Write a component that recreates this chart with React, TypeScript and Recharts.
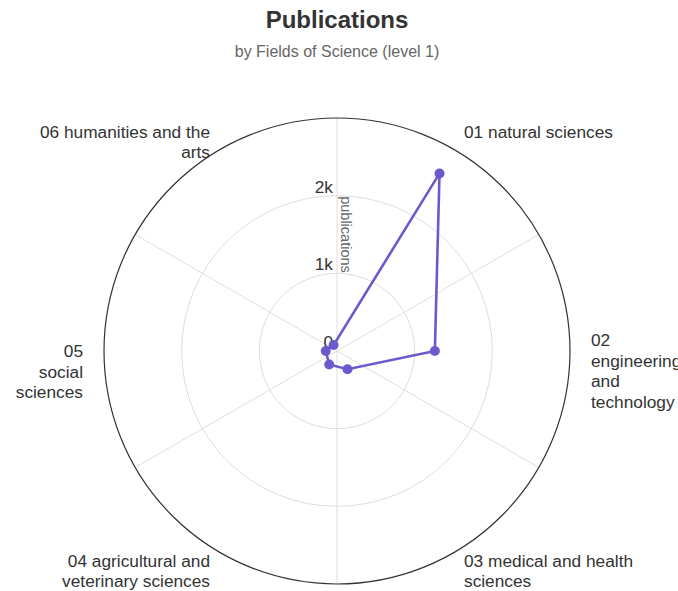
import React from 'react';
import { RadarChart, Radar, PolarGrid, PolarAngleAxis, PolarRadiusAxis } from 'recharts';

const categories = [
  '01 natural sciences',
  '02 engineering and technology',
  '03 medical and health sciences',
  '04 agricultural and veterinary sciences',
  '05 social sciences',
  '06 humanities and the arts',
];
const publications = [2640, 1260, 270, 200, 145, 88];
const categoryLabelLines = [
  ['01 natural sciences'],
  ['02', 'engineering', 'and', 'technology'],
  ['03 medical and health', 'sciences'],
  ['04 agricultural and', 'veterinary sciences'],
  ['05', 'social', 'sciences'],
  ['06 humanities and the', 'arts'],
];
const radiusTicks = [0, 1000, 2000];
const radiusDomain = [0, 3000];
const gridAngles = [30, 90, 150, 210, 270, 330];
const title = 'Publications';
const subtitle = 'by Fields of Science (level 1)';
const axisTitle = 'publications';

const data = categories.map((c, i) => ({ field: c, publications: publications[i] }));

const W = 678;
const H = 591;
const CX = 337;
const CY = 351;
const R = 233;
const LABEL_R = 254;
const LH = 20.5;
const FONT = '"Liberation Sans", Arial, Helvetica, sans-serif';
const COLOR = '#6a5acd';

const formatTick = (v: number) => (v === 0 ? '0' : `${v / 1000}k`);

const AngleTick = (props: any) => {
  const { payload } = props;
  const angle = payload.coordinate;
  const rad = (-angle * Math.PI) / 180;
  const ax = CX + LABEL_R * Math.cos(rad);
  const ay = CY + LABEL_R * Math.sin(rad);
  const idx = categories.indexOf(payload.value);
  const lines = categoryLabelLines[idx] || [String(payload.value)];
  const c = Math.cos(rad);
  const s = -Math.sin(rad);
  const anchor = c > 0.01 ? 'start' : c < -0.01 ? 'end' : 'middle';
  const n = lines.length;
  let first: number;
  if (s > 0.3) first = ay + 6.5;
  else if (s < -0.3) first = ay + 6 - ((n - 1) * LH) / 2;
  else first = ay + 6 - Math.max(0, n - 3) * 11;
  return (
    <text x={ax} y={first} textAnchor={anchor} fontSize={17.3} fill="#333" fontFamily={FONT}>
      {lines.map((l, i) => (
        <tspan key={i} x={ax} y={first + i * LH}>
          {l}
        </tspan>
      ))}
    </text>
  );
};

const RadiusTick = (props: any) => {
  const { x, y, payload } = props;
  return (
    <text x={x - 4} y={y - 3} textAnchor="end" fontSize={17.3} fill="#333" fontFamily={FONT}>
      {formatTick(payload.value)}
    </text>
  );
};

export default function App() {
  const ringRadii = radiusTicks.map((t) => (t / radiusDomain[1]) * R);
  return (
    <div style={{ position: 'absolute', left: 0, top: 0, width: W, height: H, background: '#fff' }}>
      <RadarChart
        width={W}
        height={H}
        data={data}
        cx={CX}
        cy={CY}
        outerRadius={R}
        startAngle={60}
        endAngle={-300}
        margin={{ top: 0, right: 0, bottom: 0, left: 0 }}
      >
        <PolarGrid gridType="circle" polarAngles={gridAngles} polarRadius={ringRadii} stroke="#dedede" strokeWidth={1} />
        <PolarAngleAxis
          dataKey="field"
          axisLineType="circle"
          axisLine={{ stroke: '#333', strokeWidth: 1.2 }}
          tickLine={false}
          tick={AngleTick}
        />
        <PolarRadiusAxis
          angle={90}
          type="number"
          domain={radiusDomain}
          ticks={radiusTicks}
          axisLine={false}
          tickLine={false}
          tick={RadiusTick}
        />
        <Radar
          dataKey="publications"
          stroke={COLOR}
          strokeWidth={2.6}
          fill="none"
          fillOpacity={0}
          dot={{ r: 5, fill: COLOR, stroke: COLOR, strokeWidth: 0, fillOpacity: 1 }}
          isAnimationActive={false}
        />
        <text
          x={CX + 9}
          y={CY - R / 2}
          transform={`rotate(90, ${CX + 9}, ${CY - R / 2})`}
          textAnchor="middle"
          dominantBaseline="central"
          fontSize={14.5}
          fill="#666"
          fontFamily={FONT}
        >
          {axisTitle}
        </text>
        <text x={337} y={28} textAnchor="middle" fontSize={24} fontWeight="bold" fill="#333" fontFamily={FONT}>
          {title}
        </text>
        <text x={337} y={57} textAnchor="middle" fontSize={16} fill="#666" fontFamily={FONT}>
          {subtitle}
        </text>
      </RadarChart>
    </div>
  );
}
